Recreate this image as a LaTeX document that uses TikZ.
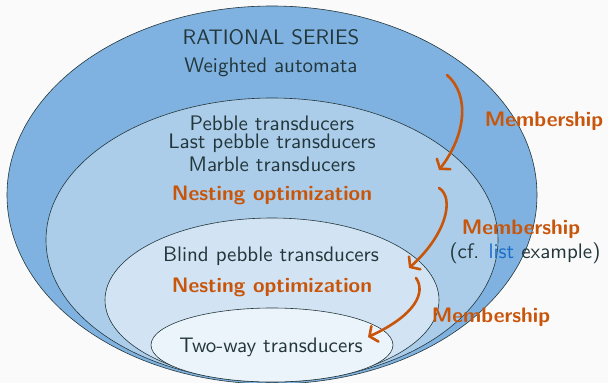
\documentclass[tikz,border=0pt]{standalone}
\usepackage{graphicx}
\usetikzlibrary{arrows.meta}
\definecolor{bgc}{RGB}{250,250,250}
\definecolor{txt}{RGB}{35,55,59}
\definecolor{alert}{RGB}{200,85,10}
\definecolor{lnk}{RGB}{25,110,200}
\definecolor{fa}{RGB}{127,178,224}
\definecolor{fb}{RGB}{171,205,234}
\definecolor{fc}{RGB}{210,228,244}
\definecolor{fd}{RGB}{236,244,251}
\newcommand{\bigtxt}[1]{\scalebox{2.1}{#1}}
\tikzset{
  ell/.style={draw=txt, line width=0.6pt},
  lbl/.style={text=txt, font=\sffamily\fontsize{10}{12}\selectfont, inner sep=0pt, anchor=base},
  alrt/.style={text=alert, font=\sffamily\bfseries\fontsize{10}{12}\selectfont, inner sep=0pt, anchor=base},
  memb/.style={draw=alert, line width=2.6pt, line cap=round, -{Straight Barb[length=6pt,width=17pt,line cap=round]}}
}
\begin{document}
\begin{tikzpicture}[x=1pt,y=-1pt]
\useasboundingbox (0,0) rectangle (608,383);
\fill[bgc] (0,0) rectangle (608,383);
% nested classes
\draw[ell, fill=fa] (272,195) ellipse [x radius=265, y radius=189];
\draw[ell, fill=fb] (272,240) ellipse [x radius=226, y radius=142];
\draw[ell, fill=fc] (272,300) ellipse [x radius=167, y radius=82];
\draw[ell, fill=fd] (272,345) ellipse [x radius=121, y radius=37];
% labels
\node[lbl] (rs) at (271,44) {\bigtxt{RATIONAL SERIES}};
\node[lbl] (wa) at (271,72.5) {\bigtxt{Weighted automata}};
\node[lbl] (pt) at (272,130) {\bigtxt{Pebble transducers}};
\node[lbl] (lpt) at (272,148.5) {\bigtxt{Last pebble transducers}};
\node[lbl] (mt) at (272,171) {\bigtxt{Marble transducers}};
\node[alrt] (no1) at (272,200.5) {\bigtxt{Nesting optimization}};
\node[lbl] (bpt) at (271,261.5) {\bigtxt{Blind pebble transducers}};
\node[alrt] (no2) at (272,292.5) {\bigtxt{Nesting optimization}};
\node[lbl] (twt) at (271,352.3) {\bigtxt{Two-way transducers}};
\node[alrt] (m1) at (544,126) {\bigtxt{Membership}};
\node[alrt] (m2) at (521,234.3) {\bigtxt{Membership}};
\node[lbl] (cf) at (525,258.3) {\bigtxt{(cf. \textcolor{lnk}{list} example)}};
\node[alrt] (m3) at (491,322.7) {\bigtxt{Membership}};
% arrows
\coordinate (a1s) at (447,75);
\coordinate (a1e) at (439,170);
\coordinate (a2s) at (439,188);
\coordinate (a2e) at (409,268);
\coordinate (a3s) at (416,278);
\coordinate (a3e) at (368,337);
\draw[memb] (a1s) .. controls (470,95) and (466,135) .. (a1e);
\draw[memb] (a2s) .. controls (455,198) and (446,235) .. (a2e);
\draw[memb] (a3s) .. controls (426,292) and (416,315) .. (a3e);
\end{tikzpicture}
\end{document}
